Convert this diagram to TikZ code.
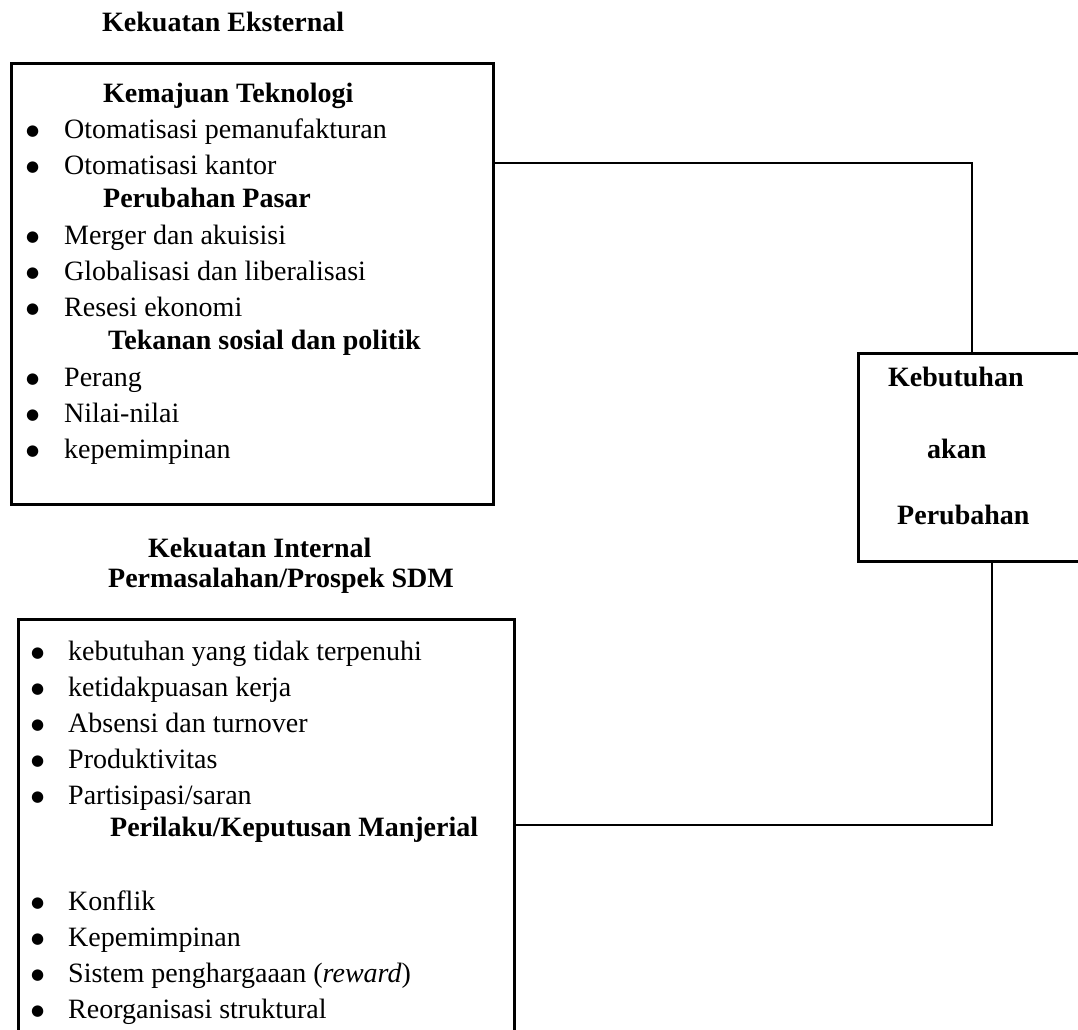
\documentclass[tikz,border=0pt]{standalone}
\usepackage{fontspec}
\setmainfont{Liberation Serif}
\newfontfamily\dotfont{DejaVu Sans}
\newcommand\dotmark{\raisebox{3pt}{\dotfont\fontsize{15}{15}\selectfont ●}}
\newcommand\itm[1]{\makebox[38pt][l]{\dotmark}#1}
\newcommand\itmb[1]{\makebox[37pt][l]{\dotmark}#1}
\begin{document}
\begin{tikzpicture}[x=1pt,y=-1pt,
    box/.style={draw,line width=2.8pt,inner sep=0pt,anchor=north west},
    link/.style={line width=2.3pt},
    txt/.style={anchor=base west,inner sep=0pt,font=\fontsize{28}{34}\selectfont},
    head/.style={txt,font=\fontsize{28}{34}\selectfont\bfseries}]
    \useasboundingbox (0,0) rectangle (1078,1029);
    \fill[white] (0,0) rectangle (1078,1029);
    \clip (0,0) rectangle (1078,1029);
    % external forces
    \node[head] (exttitle) at (102,31) {Kekuatan Eksternal};
    \node[box,minimum width=482pt,minimum height=441pt] (ext) at (10,62) {};
    \node[head] (tech) at (103,102) {Kemajuan Teknologi};
    \node[txt] (e1) at (26,138) {\itm{Otomatisasi pemanufakturan}};
    \node[txt] (e2) at (26,174) {\itm{Otomatisasi kantor}};
    \node[head] (market) at (103,207) {Perubahan Pasar};
    \node[txt] (e3) at (26,244) {\itm{Merger dan akuisisi}};
    \node[txt] (e4) at (26,280) {\itm{Globalisasi dan liberalisasi}};
    \node[txt] (e5) at (26,316) {\itm{Resesi ekonomi}};
    \node[head] (social) at (108,349) {Tekanan sosial dan politik};
    \node[txt] (e6) at (26,386) {\itm{Perang}};
    \node[txt] (e7) at (26,422) {\itm{Nilai-nilai}};
    \node[txt] (e8) at (26,458) {\itm{kepemimpinan}};
    % internal forces
    \node[head] (inttitle) at (148,557) {Kekuatan Internal};
    \node[head] (hr) at (108,587) {Permasalahan/Prospek SDM};
    \node[box,minimum width=496pt,minimum height=460pt] (int) at (17,618) {};
    \node[txt] (i1) at (31,660) {\itmb{kebutuhan yang tidak terpenuhi}};
    \node[txt] (i2) at (31,696) {\itmb{ketidakpuasan kerja}};
    \node[txt] (i3) at (31,732) {\itmb{Absensi dan turnover}};
    \node[txt] (i4) at (31,768) {\itmb{Produktivitas}};
    \node[txt] (i5) at (31,804) {\itmb{Partisipasi/saran}};
    \node[head] (mgr) at (110,836) {Perilaku/Keputusan Manjerial};
    \node[txt] (i6) at (31,910) {\itmb{Konflik}};
    \node[txt] (i7) at (31,946) {\itmb{Kepemimpinan}};
    \node[txt] (i8) at (31,982) {\itmb{Sistem penghargaaan (\textit{reward})}};
    \node[txt] (i9) at (31,1018) {\itmb{Reorganisasi struktural}};
    % need for change
    \node[box,minimum width=240pt,minimum height=208pt] (need) at (857,352) {};
    \node[head] (n1) at (888,386) {Kebutuhan};
    \node[head] (n2) at (927,458) {akan};
    \node[head] (n3) at (897,524) {Perubahan};
    % connectors
    \coordinate (jt) at (972,163);
    \coordinate (jb) at (992,825);
    \draw[link] (ext.east |- jt) -- (jt) -- (jt |- need.north);
    \draw[link] (need.south -| jb) -- (jb) -- (jb -| int.east);
\end{tikzpicture}
\end{document}
